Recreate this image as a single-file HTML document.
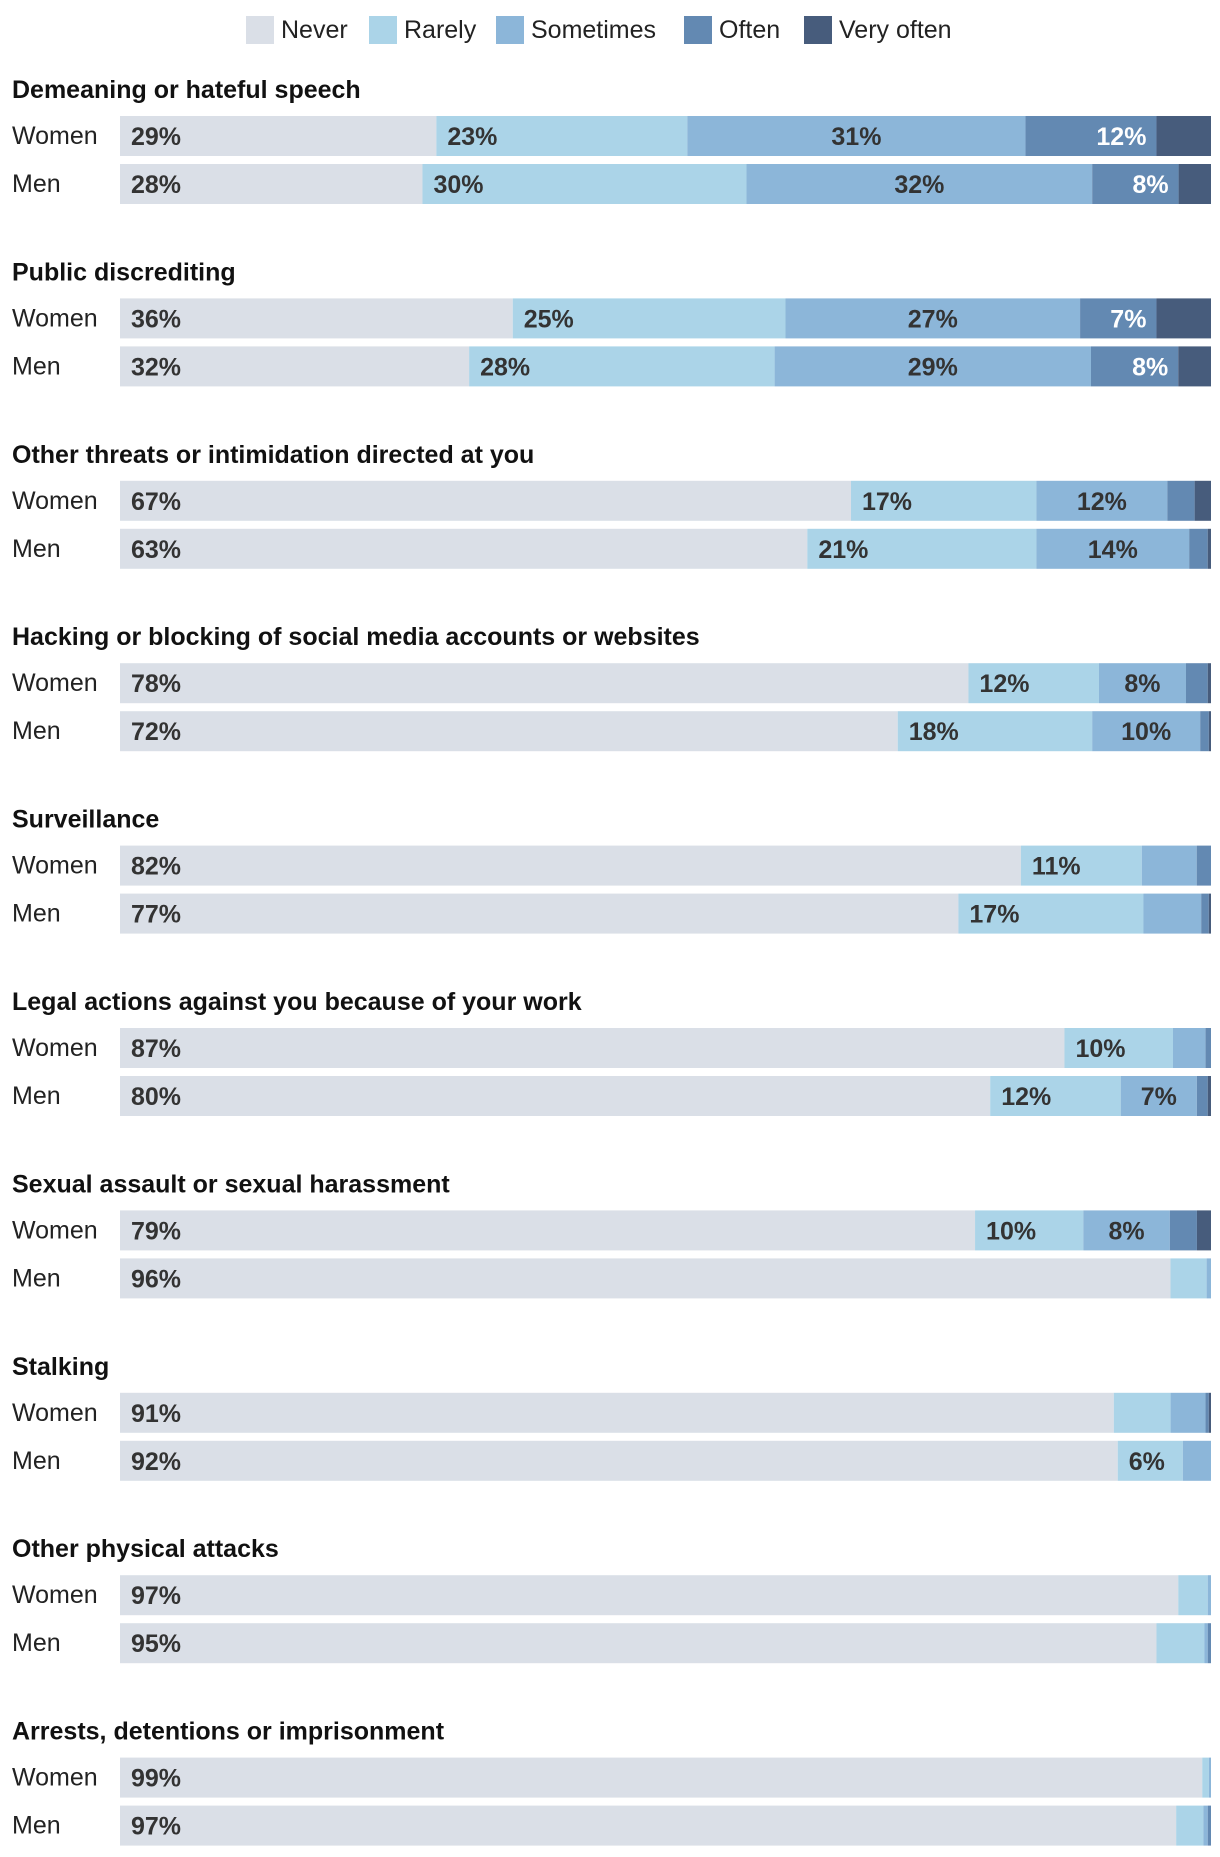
<!DOCTYPE html>
<html><head><meta charset="utf-8"><style>
body{margin:0;background:#fff;}
svg text{font-family:"Liberation Sans Narrow","Liberation Sans",sans-serif;}
</style></head><body>
<svg id="chart" width="1220" height="1852" xmlns="http://www.w3.org/2000/svg"></svg>
<script>
const categories=["Never","Rarely","Sometimes","Often","Very often"];
const colors=["#dadfe7","#abd4e8","#8cb6d9","#6389b2","#475c7c"];
const topics=["Demeaning or hateful speech","Public discrediting","Other threats or intimidation directed at you","Hacking or blocking of social media accounts or websites","Surveillance","Legal actions against you because of your work","Sexual assault or sexual harassment","Stalking","Other physical attacks","Arrests, detentions or imprisonment"];
const groups=["Women","Men"];
const womenValues=[[29,23,31,12,5],[36,25,27,7,5],[67,17,12,2.5,1.5],[78,12,8,2,0.3],[82,11,5,1.3,0],[87,10,3,0.5,0],[79,10,8,2.5,1.3],[91,5.2,3.2,0.3,0.2],[97,2.7,0.3,0,0],[99,0.6,0.2,0,0]];
const menValues=[[28,30,32,8,3],[32,28,29,8,3],[63,21,14,1.7,0.3],[72,18,10,0.8,0.2],[77,17,5.3,0.7,0.2],[80,12,7,1,0.3],[96,3.3,0.4,0,0],[92,6,2.6,0,0],[95,4.4,0.3,0.3,0],[97,2.5,0.4,0.3,0]];
const svg=document.getElementById('chart');
const NS="http://www.w3.org/2000/svg";
function mk(tag,attrs,txt){const e=document.createElementNS(NS,tag);for(const k in attrs)e.setAttribute(k,attrs[k]);if(txt!=null)e.textContent=txt;svg.appendChild(e);return e;}
const X0=120,X1=1211;
const xScale=(v,t)=>X0+(X1-X0)*v/t;
const legX=[246,369,496,684,804];
categories.forEach((c,i)=>{
 const r=mk('rect',{x:legX[i],y:16,width:28,height:28,fill:colors[i]});
 
 
 const t=mk('text',{x:legX[i]+35,y:38,'font-size':25,fill:'#222'},c);
 
 
});
topics.forEach((topic,ti)=>{
 const base=ti*182.4;
 const tt=mk('text',{x:12,y:98+base,'font-size':25,'font-weight':'bold',fill:'#111'},topic);
 
 
 [womenValues[ti],menValues[ti]].forEach((vals,gi)=>{
  const y=116+base+gi*48;
  const gl=mk('text',{x:12,y:y+28,'font-size':25,fill:'#222'},groups[gi]);
  
  
  const total=vals.reduce((a,b)=>a+b,0);
  let cum=0;
  vals.forEach((v,ci)=>{
   if(v<=0)return;
   const xa=xScale(cum,total),xb=xScale(cum+v,total);
   const r=mk('rect',{x:xa,y:y,width:xb-xa,height:40,fill:colors[ci]});
   
   
   if(v>=5.8){
    const lab=Math.round(v)+'%';
    let x,anchor;
    if(ci<=1){x=xa+11;anchor='start';}
    else if(ci==2){x=(xa+xb)/2;anchor='middle';}
    else{x=xb-10;anchor='end';}
    const t=mk('text',{x:x,y:y+29,'font-size':25,'font-weight':'bold','text-anchor':anchor,fill:ci>=3?'#fff':'#333'},lab);
    
    
   }
   cum+=v;
  });
 });
});
</script>
</body></html>
